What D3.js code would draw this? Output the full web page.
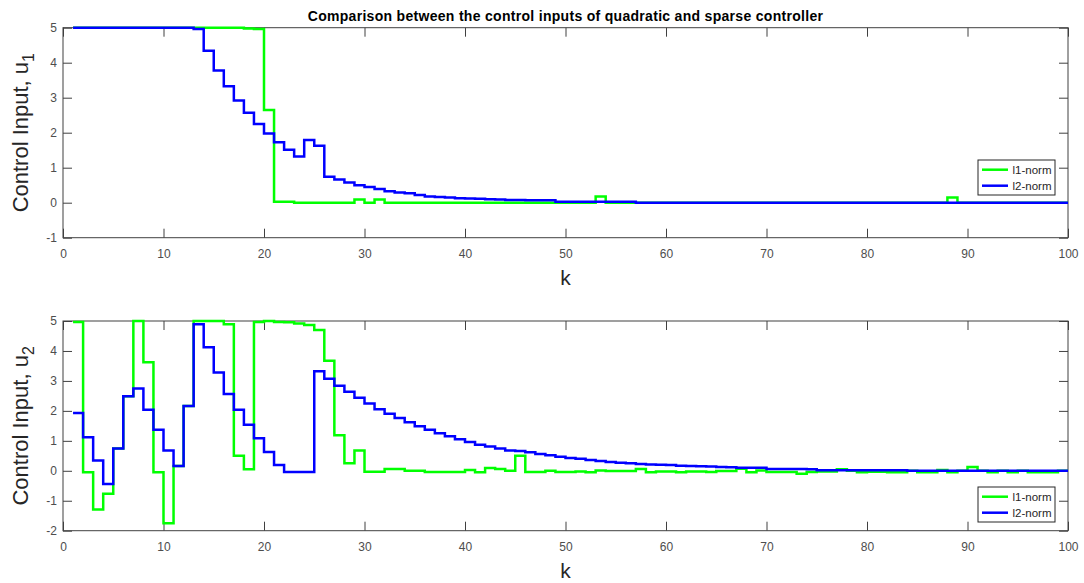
<!DOCTYPE html>
<html>
<head>
<meta charset="utf-8">
<script src="https://cdn.jsdelivr.net/npm/d3@7"></script>
<style>
  html, body { margin: 0; padding: 0; background: #fff; }
  svg { display: block; font-family: "Liberation Sans", Arial, Helvetica, sans-serif; }
</style>
</head>
<body>
<svg id="chart" width="1084" height="583"></svg>
<script>
// ---------------- data ----------------
const k = d3.range(1, 101);
const seriesNames = ["l1-norm", "l2-norm"];
const seriesColors = ["#00ff00", "#0000ff"];
const titleText = "Comparison between the control inputs of quadratic and sparse controller";
const xTicks = [0, 10, 20, 30, 40, 50, 60, 70, 80, 90, 100];
const yTicksTop = [-1, 0, 1, 2, 3, 4, 5];
const yTicksBottom = [-2, -1, 0, 1, 2, 3, 4, 5];

// u1, l1-norm (sparse)
const u1_l1 = [
  5, 5, 5, 5, 5, 5, 5, 5, 5, 5,
  5, 5, 5, 5, 5, 5, 5, 4.98, 4.96, 2.65,
  0.03, 0.03, 0, 0, 0, 0, 0, 0, 0.09, 0,
  0.09, 0, 0, 0, 0, 0, 0, 0, 0, 0,
  0, 0, 0, 0, 0, 0, 0, 0, 0, 0,
  0, 0, 0.18, 0, 0, 0, 0, 0, 0, 0,
  0, 0, 0, 0, 0, 0, 0, 0, 0, 0,
  0, 0, 0, 0, 0, 0, 0, 0, 0, 0,
  0, 0, 0, 0, 0, 0, 0, 0.15, 0, 0,
  0, 0, 0, 0, 0, 0, 0, 0, 0, 0
];
// u1, l2-norm (quadratic)
const u1_l2 = [
  5, 5, 5, 5, 5, 5, 5, 5, 5, 5,
  5, 5, 4.96, 4.34, 3.78, 3.33, 2.92, 2.57, 2.25, 1.98,
  1.73, 1.51, 1.32, 1.79, 1.63, 0.74, 0.66, 0.58, 0.50, 0.45,
  0.39, 0.33, 0.29, 0.27, 0.22, 0.18, 0.16, 0.15, 0.13, 0.12,
  0.11, 0.10, 0.09, 0.08, 0.08, 0.07, 0.07, 0.07, 0.03, 0.03,
  0.03, 0.03, 0.03, 0.03, 0.03, 0.03, 0, 0, 0, 0,
  0, 0, 0, 0, 0, 0, 0, 0, 0, 0,
  0, 0, 0, 0, 0, 0, 0, 0, 0, 0,
  0, 0, 0, 0, 0, 0, 0, 0, 0, 0,
  0, 0, 0, 0, 0, 0, 0, 0, 0, 0
];
// u2, l1-norm (sparse)
const u2_l1 = [
  4.97, -0.05, -1.29, -0.77, 0.74, 2.49, 5.0, 3.62, -0.05, -1.75,
  0.16, 2.16, 5.0, 5.0, 5.0, 4.89, 0.50, 0.05, 4.97, 5.0,
  4.97, 4.96, 4.92, 4.87, 4.70, 3.67, 1.19, 0.25, 0.68, -0.03,
  -0.03, 0.06, 0.06, 0.0, 0.0, -0.04, -0.04, -0.04, -0.04, 0.03,
  -0.05, 0.09, 0.06, 0.0, 0.50, -0.04, -0.04, 0.0, -0.04, -0.04,
  -0.02, -0.05, 0.01, -0.01, -0.01, -0.01, 0.06, -0.05, -0.02, -0.02,
  -0.05, -0.02, -0.02, -0.04, -0.01, -0.01, 0.07, -0.05, 0.01, -0.04,
  -0.04, -0.04, -0.10, -0.04, -0.02, -0.02, 0.05, 0.0, -0.05, -0.03,
  -0.03, -0.05, -0.05, 0.0, -0.05, -0.05, 0.03, -0.05, 0.0, 0.13,
  0.0, -0.05, 0.0, -0.05, 0.0, -0.05, -0.05, -0.05, 0.0, 0.0
];
// u2, l2-norm (quadratic)
const u2_l2 = [
  1.93, 1.12, 0.34, -0.44, 0.74, 2.49, 2.75, 2.04, 1.37, 0.68,
  0.16, 2.16, 4.89, 4.12, 3.28, 2.56, 2.04, 1.54, 1.09, 0.63,
  0.19, -0.04, -0.04, -0.04, 3.32, 3.07, 2.84, 2.64, 2.44, 2.25,
  2.05, 1.90, 1.76, 1.62, 1.49, 1.37, 1.25, 1.15, 1.05, 0.96,
  0.87, 0.81, 0.74, 0.68, 0.66, 0.62, 0.56, 0.52, 0.47, 0.43,
  0.40, 0.36, 0.33, 0.29, 0.27, 0.25, 0.23, 0.21, 0.20, 0.19,
  0.17, 0.16, 0.15, 0.14, 0.13, 0.12, 0.10, 0.10, 0.10, 0.06,
  0.06, 0.06, 0.06, 0.05, 0.015, 0.015, 0.015, 0.015, 0.015, 0.015,
  0.015, 0.015, 0.015, 0, 0, 0, 0, 0, 0, 0,
  0, 0, 0, 0, 0, 0, 0, 0, 0, 0
];

// ---------------- layout ----------------
const svg = d3.select("#chart");
const AX = "#404040";
const left = 63, right = 1068;
const fmt = d => String(d);   // plain hyphen for negatives, as in the original

const panels = [
  { top: 27.7, bottom: 237.7, domain: [-1, 5], yticks: yTicksTop, series: [u1_l1, u1_l2], sub: "1",
    legend: { x: 978, y: 160 } },
  { top: 321, bottom: 530.7, domain: [-2, 5], yticks: yTicksBottom, series: [u2_l1, u2_l2], sub: "2",
    legend: { x: 978, y: 487 } }
];

const x = d3.scaleLinear().domain([0, 100]).range([left, right]);

svg.append("text")
  .attr("x", (left + right) / 2).attr("y", 20.5)
  .attr("text-anchor", "middle")
  .attr("font-size", "14px").attr("font-weight", "bold").attr("fill", "#000")
  .attr("letter-spacing", "0.3px")
  .text(titleText);

panels.forEach(p => {
  const y = d3.scaleLinear().domain(p.domain).range([p.bottom, p.top]);
  const g = svg.append("g");
  const h = p.bottom - p.top, w = right - left;

  const styleAxis = sel => {
    sel.select(".domain").remove();
    sel.selectAll(".tick line").attr("stroke", AX);
    sel.selectAll(".tick text").attr("fill", "#4d4d4d").attr("font-size", "12px")
      .attr("font-family", "'Liberation Sans', Arial, sans-serif");
  };

  g.append("g").attr("transform", `translate(0,${p.bottom})`)
    .call(d3.axisBottom(x).tickValues(xTicks).tickSize(-9).tickPadding(11.5).tickFormat(fmt))
    .call(styleAxis);
  g.append("g").attr("transform", `translate(0,${p.top})`)
    .call(d3.axisTop(x).tickValues(xTicks).tickSize(-9).tickFormat(""))
    .call(styleAxis);
  g.append("g").attr("transform", `translate(${left},0)`)
    .call(d3.axisLeft(y).tickValues(p.yticks).tickSize(-9).tickPadding(6).tickFormat(fmt))
    .call(styleAxis);
  g.append("g").attr("transform", `translate(${right},0)`)
    .call(d3.axisRight(y).tickValues(p.yticks).tickSize(-9).tickFormat(""))
    .call(styleAxis);

  g.append("rect")
    .attr("x", left).attr("y", p.top).attr("width", w).attr("height", h)
    .attr("fill", "none").attr("stroke", AX).attr("stroke-width", 1);

  const line = d3.line()
    .x((d, i) => x(k[i]))
    .y(d => y(d))
    .curve(d3.curveStepAfter);

  p.series.forEach((s, si) => {
    g.append("path")
      .datum(s)
      .attr("d", line)
      .attr("fill", "none")
      .attr("stroke", seriesColors[si])
      .attr("stroke-width", 2.5)
      .attr("stroke-linejoin", "miter");
  });

  // y label
  const cy = (p.top + p.bottom) / 2;
  const yl = g.append("text")
    .attr("transform", `translate(28,${cy}) rotate(-90)`)
    .attr("text-anchor", "middle")
    .attr("font-size", "22px").attr("fill", "#262626");
  yl.append("tspan").text("Control Input, u");
  yl.append("tspan").attr("font-size", "16px").attr("dy", "6").text(p.sub);

  // x label
  g.append("text")
    .attr("x", x(50)).attr("y", p.bottom + 47)
    .attr("text-anchor", "middle")
    .attr("font-size", "21px").attr("fill", "#262626")
    .text("k");

  // legend
  const lg = g.append("g").attr("transform", `translate(${p.legend.x},${p.legend.y})`);
  lg.append("rect").attr("x", 0).attr("y", 0).attr("width", 77).attr("height", 35)
    .attr("fill", "#fff").attr("stroke", "#262626").attr("stroke-width", 1);
  seriesNames.forEach((n, i) => {
    const ry = 9.7 + i * 16;
    lg.append("line").attr("x1", 4).attr("x2", 30).attr("y1", ry).attr("y2", ry)
      .attr("stroke", seriesColors[i]).attr("stroke-width", 2.5);
    lg.append("text").attr("x", 34.5).attr("y", ry).attr("dy", "0.35em")
      .attr("font-size", "11.5px").attr("fill", "#262626").text(n);
  });
});
</script>
</body>
</html>
